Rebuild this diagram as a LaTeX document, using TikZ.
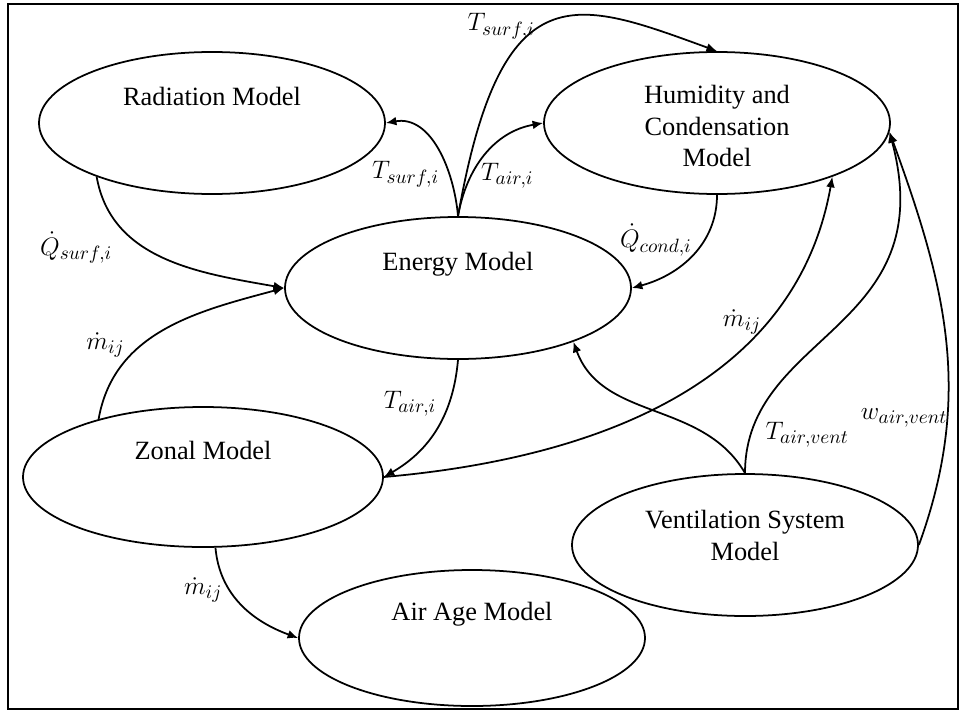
\documentclass[tikz,border=0pt]{standalone}
\usepackage{amsmath}
\usepackage{fontspec}
\setmainfont{Liberation Serif}
\usetikzlibrary{positioning,shapes.geometric,arrows.meta}

\begin{document}
\begin{tikzpicture}[
        model/.style={draw,line width=1pt,ellipse,on grid,minimum width=6.92cm,minimum height=2.84cm,
            inner sep=0pt,font=\fontsize{15}{18}\selectfont},
        raised/.style={text height=0.4cm,text depth=1.1cm},
        flow/.style={line width=1pt,-{Latex[length=6pt,width=5pt]}},
        lbl/.style={font=\fontsize{15}{18}\selectfont,inner sep=1pt}]
    \useasboundingbox (0,0) rectangle (19.32,-14.26);
    \draw[line width=1.1pt] (0.16,-0.08) rectangle (19.16,-14.18);
    \node[model,raised] (en) at (9.16,-5.76) {Energy Model};
    \node[model,raised] (rad) [above left=3.3cm and 4.92cm of en] {Radiation Model};
    \node[model,text height=0.44cm,text depth=1.22cm] (hum) [above right=3.3cm and 5.18cm of en]
        {\begin{tabular}[t]{@{}c@{}}Humidity and\\Condensation\\Model\end{tabular}};
    \node[model,raised,minimum width=7.2cm,minimum height=2.8cm] (zon) [below left=3.78cm and 5.1cm of en] {Zonal Model};
    \node[model,text height=0.44cm,text depth=1.1cm] (vent) [below right=5.14cm and 5.74cm of en]
        {\begin{tabular}[t]{@{}c@{}}Ventilation System\\Model\end{tabular}};
    \node[model,raised,minimum height=2.72cm] (age) [below=7cm of en,xshift=0.28cm] {Air Age Model};
    % from the energy model
    \draw[flow] (en.90) to[out=95,in=10] node[lbl,pos=0.3,anchor=east,xshift=-0.15cm] (l1) {$T_{surf,i}$} (rad.0);
    \draw[flow] (en.90) to[out=80,in=190] node[lbl,pos=0.3,anchor=west,xshift=0.15cm] (l2) {$T_{air,i}$} (hum.180);
    \draw[flow] (en.90) to[out=80,in=160,out looseness=2.09,in looseness=1.25] node[lbl,pos=0.4,anchor=south east,xshift=0.2cm,yshift=-0.1cm] (l3) {$T_{surf,i}$} (hum.north);
    \draw[flow] (en.270) to[out=-95,in=30] node[lbl,pos=0.3,anchor=east,xshift=-0.2cm] (l7) {$T_{air,i}$} (zon.0);
    % into the energy model
    \draw[flow] (rad.205) to[out=-80,in=170] node[lbl,pos=0.4,anchor=east,xshift=-0.6cm] (l4) {$\dot{Q}_{surf,i}$} (en.180);
    \draw[flow] (hum.270) to[out=-90,in=15] node[lbl,pos=0.35,anchor=east,xshift=-0.2cm] (l5) {$\dot{Q}_{cond,i}$} (en.0);
    \draw[flow] (zon.151) to[out=80,in=195] node[lbl,pos=0.38,anchor=east,xshift=-0.3cm] (l6) {$\dot{m}_{ij}$} (en.180);
    \draw[flow] (vent.90) to[out=120,in=-70] (en.-25);
    % zonal and ventilation
    \draw[flow] (zon.0) to[out=5,in=-100] node[lbl,pos=0.72,anchor=east,xshift=-0.05cm] (l11) {$\dot{m}_{ij}$} (hum.-25);
    \draw[flow] (zon.280) to[out=-85,in=160] node[lbl,pos=0.35,anchor=east,xshift=-0.1cm] (l12) {$\dot{m}_{ij}$} (age.180);
    \draw[flow] (vent.90) to[out=90,in=-75,out looseness=0.97,in looseness=1.42] node[lbl,pos=0.1,anchor=west,xshift=0.25cm] (l9) {$T_{air,vent}$} (hum.-3);
    \draw[flow] (vent.0) to[out=70,in=-70] node[lbl,pos=0.3,anchor=east,xshift=0.05cm] (l10) {$w_{air,vent}$} (hum.-3);
\end{tikzpicture}
\end{document}
